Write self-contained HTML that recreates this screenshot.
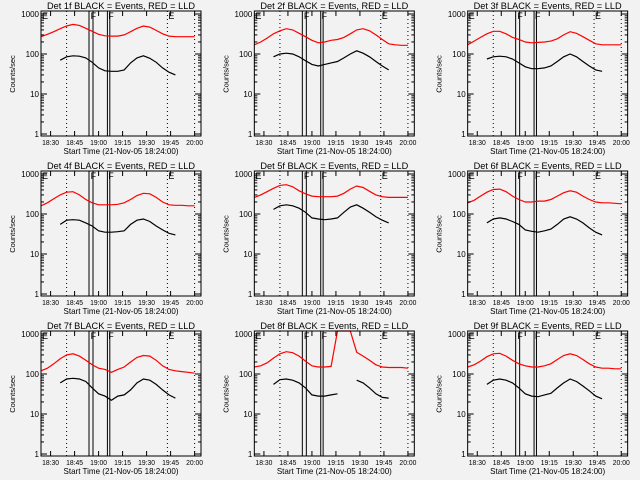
<!DOCTYPE html>
<html><head><meta charset="utf-8">
<style>
html,body{margin:0;padding:0;background:#f2f2f2;}
svg{display:block;font-family:"Liberation Sans",sans-serif;}
</style></head>
<body>
<svg id="chart" width="640" height="480" viewBox="0 0 640 480" xmlns="http://www.w3.org/2000/svg">
<rect width="640" height="480" fill="#f2f2f2"/>
</svg>
<script>
const detLabels = ["1f","2f","3f","4f","5f","6f","7f","8f","9f"];
const redTimes = [0,4,8,12,16,20,24,28,32,36,40,44,48,52,56,60,64,68,72,76,80,84,88,92,96];
const blackTimes = [12,16,20,24,28,32,36,40,44,48,52,56,60,64,68,72,76,80,84];
const red1 = [270,310,360,430,500,550,520,440,370,310,285,280,280,300,360,440,500,470,390,320,280,270,270,270,270];
const red2 = [170,200,250,320,380,430,400,330,270,220,190,200,220,230,260,320,400,430,380,300,230,180,170,165,165];
const red3 = [170,210,260,320,370,370,320,260,230,200,190,195,200,210,240,300,360,330,270,220,180,170,170,170,170];
const red4 = [160,190,240,300,350,360,300,230,190,170,170,170,175,190,230,290,330,320,260,200,170,165,165,160,160];
const red5 = [260,300,360,440,520,540,480,380,320,280,270,270,270,280,330,420,500,460,370,300,270,260,260,260,260];
const red6 = [190,220,280,350,410,420,360,280,230,200,200,210,210,230,280,340,380,350,280,230,200,190,190,185,180];
const red7 = [120,140,180,240,300,320,280,220,170,140,130,110,130,150,200,260,290,280,220,160,130,120,115,110,105];
const red8 = [150,160,190,250,320,360,340,280,210,160,150,150,155,2000,2000,2000,350,280,220,170,150,145,145,145,140];
const red9 = [150,170,210,270,320,330,280,220,180,160,150,150,160,180,230,290,320,290,230,180,150,140,140,135,135];
const black1 = [70,85,90,88,80,62,45,38,37,37,40,60,80,90,78,62,45,35,30];
const black2 = [85,100,105,100,85,68,55,50,55,60,65,80,100,120,105,85,65,50,40];
const black3 = [75,85,88,85,75,60,48,43,43,45,50,65,85,100,85,65,50,40,37];
const black4 = [55,70,72,70,60,50,38,35,35,36,38,55,70,75,65,50,40,33,30];
const black5 = [130,160,170,160,140,110,80,75,72,75,80,110,150,170,140,110,85,70,60];
const black6 = [60,75,80,75,65,55,40,37,35,38,42,55,75,85,75,60,45,35,30];
const black7 = [60,75,78,75,65,45,32,28,22,28,30,40,60,75,70,55,40,30,25];
const black8 = [55,72,75,70,60,45,30,28,28,30,32,null,null,70,60,45,32,26,25];
const black9 = [55,70,75,70,60,45,32,28,27,30,33,45,60,75,65,50,38,28,24];
const reds = [red1,red2,red3,red4,red5,red6,red7,red8,red9];
const blacks = [black1,black2,black3,black4,black5,black6,black7,black8,black9];
const xTickMinutes = [6,21,36,51,66,81,96];
const xTickLabels = ["18:30","18:45","19:00","19:15","19:30","19:45","20:00"];
const yTickValues = [1,10,100,1000];
const yTickLabels = ["1","10","100","1000"];
const dottedMinutes = [16,79,96];
const fLineMinutes = [30,32.5,41.5,43];
const eMarkMinutes = [0,79];
const fMarkMinutes = [31,42];

const NS = "http://www.w3.org/2000/svg";
const svg = document.getElementById("chart");
function mk(tag, attrs, parent) {
  const e = document.createElementNS(NS, tag);
  for (const k in attrs) e.setAttribute(k, attrs[k]);
  (parent || svg).appendChild(e);
  return e;
}
for (let p = 0; p < 9; p++) {
  const ox = (p % 3) * 213.33, oy = Math.floor(p / 3) * 160;
  const L = ox + 41, R = ox + 201, T = oy + 11, B = oy + 136;
  const xs = t => L + t * 1.6;
  const ys = v => oy + 134 - 40 * Math.log10(Math.max(v, 0.9));
  const g = mk("g", {});
  
  
  const title = mk("text", {x: (L + R) / 2, y: oy + 9, "font-size": 9.5, "text-anchor": "middle", fill: "#000", textLength: 148, lengthAdjust: "spacingAndGlyphs"}, g);
  title.textContent = "Det " + detLabels[p] + " BLACK = Events, RED = LLD";
  
  
  dottedMinutes.forEach(m => {
    const l = mk("line", {x1: xs(m), x2: xs(m), y1: T, y2: B, stroke: "#000", "stroke-width": 1, "stroke-dasharray": "1,3"}, g);
    
    
  });
  fLineMinutes.forEach(m => {
    const l = mk("line", {x1: xs(m), x2: xs(m), y1: T, y2: B, stroke: "#000", "stroke-width": 1}, g);
    
    
  });
  eMarkMinutes.forEach(m => {
    const t = mk("text", {x: xs(m) + 1, y: T + 8, "font-size": 9, fill: "#000"}, g);
    t.textContent = "E";
    
    
  });
  fMarkMinutes.forEach(m => {
    const t = mk("text", {x: xs(m), y: T + 8, "font-size": 9, fill: "#000"}, g);
    t.textContent = "F";
    
    
  });
  function series(times, vals, color, name) {
    let d = "", pen = false;
    times.forEach((t, i) => {
      const v = vals[i];
      if (v === null) { pen = false; return; }
      d += (pen ? "L" : "M") + xs(t).toFixed(1) + "," + Math.max(ys(v), T).toFixed(1);
      pen = true;
    });
    const pth = mk("path", {d: d, fill: "none", stroke: color, "stroke-width": 1.2}, g);
    
    
  }
  series(redTimes, reds[p], "#ff0000", "lld-series");
  series(blackTimes, blacks[p], "#000000", "events-series");
  const box = mk("rect", {x: L, y: T, width: R - L, height: B - T, fill: "none", stroke: "#000", "stroke-width": 1}, g);
  
  
  yTickValues.forEach((v, i) => {
    const y = ys(v);
    mk("line", {x1: L, x2: L + 6, y1: y, y2: y, stroke: "#000"}, g);
    mk("line", {x1: R, x2: R - 6, y1: y, y2: y, stroke: "#000"}, g);
    const t = mk("text", {x: L - 2, y: y + 3, "font-size": 8, "text-anchor": "end", fill: "#000"}, g);
    t.textContent = yTickLabels[i];
    
    
    if (i < yTickValues.length - 1) {
      for (let k = 2; k < 10; k++) {
        const yy = ys(v * k);
        mk("line", {x1: L, x2: L + 3, y1: yy, y2: yy, stroke: "#000"}, g);
        mk("line", {x1: R, x2: R - 3, y1: yy, y2: yy, stroke: "#000"}, g);
      }
    }
  });
  xTickMinutes.forEach((m, i) => {
    const x = xs(m);
    mk("line", {x1: x, x2: x, y1: B, y2: B - 5, stroke: "#000"}, g);
    mk("line", {x1: x, x2: x, y1: T, y2: T + 5, stroke: "#000"}, g);
    const t = mk("text", {x: x, y: B + 9, "font-size": 7.5, "text-anchor": "middle", fill: "#000", textLength: 17, lengthAdjust: "spacingAndGlyphs"}, g);
    t.textContent = xTickLabels[i];
    
    
  });
  const xt = mk("text", {x: (L + R) / 2, y: oy + 154, "font-size": 8.5, "text-anchor": "middle", fill: "#000", textLength: 115, lengthAdjust: "spacingAndGlyphs"}, g);
  xt.textContent = "Start Time (21-Nov-05 18:24:00)";
  
  
  const yt = mk("text", {x: 0, y: 0, "font-size": 7.5, "text-anchor": "middle", fill: "#000", transform: "translate(" + (ox + 15) + "," + (oy + 74) + ") rotate(-90)"}, g);
  yt.textContent = "Counts/sec";
  
  
}
</script>
</body></html>
